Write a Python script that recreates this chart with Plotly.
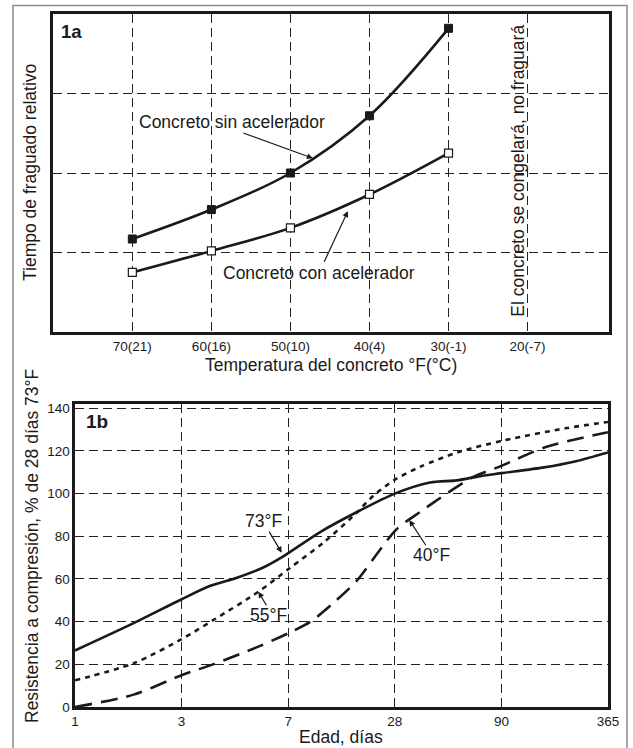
import plotly.graph_objects as go

W, H = 633, 748
FONT = "Liberation Sans, Arial, sans-serif"
INK = "#1a1a1a"
GRID = "#222222"

# ---------------- Panel 1a data ----------------
temp_f = [70, 60, 50, 40, 30]
temp_ticks = [70, 60, 50, 40, 30, 20]
temp_labels = ["70(21)", "60(16)", "50(10)", "40(4)", "30(-1)", "20(-7)"]
set_time_no_acc = [1.17, 1.54, 2.00, 2.72, 3.82]
set_time_acc = [0.75, 1.02, 1.31, 1.73, 2.25]

# ---------------- Panel 1b data ----------------
age_labels = ["1", "3", "7", "28", "90", "365"]
age_ticks = [0, 1, 2, 3, 4, 5]          # equally spaced age axis positions
strength_ticks = [0, 20, 40, 60, 80, 100, 120, 140]

pos_73 = [0.0, 0.55, 1.0, 1.27, 1.52, 1.77, 1.95, 2.30, 2.65, 3.0, 3.33, 3.58, 3.8, 4.0, 4.4, 4.7, 5.0]
str_73 = [26.5, 39.3, 50.5, 56.8, 60.6, 65.5, 70.5, 82.0, 91.5, 100.0, 105.2, 106.2, 108.2, 109.6, 112.3, 115.2, 119.3]

pos_55 = [0.0, 0.55, 1.0, 1.3, 1.72, 2.02, 2.33, 2.61, 2.80, 3.0, 3.24, 3.6, 4.03, 4.6, 5.0]
str_55 = [12.5, 20.5, 31.8, 40.8, 54.0, 65.3, 77.0, 89.5, 99.0, 106.5, 112.6, 119.5, 125.0, 130.6, 133.6]

pos_40 = [0.0, 0.55, 1.01, 1.3, 1.72, 2.02, 2.21, 2.42, 2.64, 2.86, 3.02, 3.24, 3.49, 3.74, 4.0, 4.41, 5.0]
str_40 = [0.0, 5.8, 15.1, 20.1, 28.3, 35.0, 40.0, 48.6, 59.0, 73.6, 83.5, 91.5, 100.1, 107.9, 113.0, 121.7, 128.8]

fig = go.Figure()

# Panel 1a traces
fig.add_trace(go.Scatter(
    x=temp_f, y=set_time_no_acc, mode="lines+markers",
    line=dict(color=INK, width=2.6, shape="spline", smoothing=1.0),
    marker=dict(symbol="square", size=8, color=INK, line=dict(color=INK, width=1)),
    xaxis="x", yaxis="y", name="Concreto sin acelerador"))
fig.add_trace(go.Scatter(
    x=temp_f, y=set_time_acc, mode="lines+markers",
    line=dict(color=INK, width=2.6, shape="spline", smoothing=1.0),
    marker=dict(symbol="square", size=8, color="white", line=dict(color=INK, width=1.2)),
    xaxis="x", yaxis="y", name="Concreto con acelerador"))

# Panel 1b traces
fig.add_trace(go.Scatter(
    x=pos_73, y=str_73, mode="lines",
    line=dict(color=INK, width=2.6, shape="spline", smoothing=0.8),
    xaxis="x2", yaxis="y2", name="73°F"))
fig.add_trace(go.Scatter(
    x=pos_55, y=str_55, mode="lines",
    line=dict(color=INK, width=2.6, shape="spline", smoothing=0.8, dash="5px,5px"),
    xaxis="x2", yaxis="y2", name="55°F"))
fig.add_trace(go.Scatter(
    x=pos_40, y=str_40, mode="lines",
    line=dict(color=INK, width=2.6, shape="spline", smoothing=0.8, dash="17px,9px"),
    xaxis="x2", yaxis="y2", name="40°F"))


def px(x):
    return x / W


def py(y):
    return 1 - y / H


axis_common = dict(
    showline=True, mirror=True, linecolor=INK, linewidth=2.6,
    showgrid=True, gridcolor=GRID, gridwidth=1, griddash="9px,5px",
    zeroline=False, ticks="", automargin=False,
    tickfont=dict(family=FONT, size=13.5, color=INK),
)

fig.update_layout(
    width=W, height=H, margin=dict(l=0, r=0, t=0, b=0, pad=0, autoexpand=False),
    paper_bgcolor="white", plot_bgcolor="white", showlegend=False,
    font=dict(family=FONT, color=INK),
    xaxis=dict(domain=[px(52.5), px(609)], range=[80.1, 9.7], anchor="y",
               tickmode="array", tickvals=temp_ticks, ticktext=temp_labels,
               **axis_common),
    yaxis=dict(domain=[py(332), py(14)], range=[0, 4], anchor="x",
               tickmode="array", tickvals=[1, 2, 3], showticklabels=False,
               **axis_common),
    xaxis2=dict(domain=[px(75), px(608)], range=[0, 5], anchor="y2",
                tickmode="array", tickvals=age_ticks, ticktext=age_labels,
                **axis_common),
    yaxis2=dict(domain=[py(707), py(404)], range=[0, 142], anchor="x2",
                tickmode="array", tickvals=strength_ticks,
                **axis_common),
)

TXT = dict(family=FONT, size=17.5, color=INK)
C = dict(xanchor="center", yanchor="middle", showarrow=False)
ann = []
# panel labels
ann.append(dict(text="<b>1a</b>", xref="paper", yref="paper", x=px(71), y=py(32),
                font=dict(family=FONT, size=18.5, color=INK), **C))
ann.append(dict(text="<b>1b</b>", xref="paper", yref="paper", x=px(97), y=py(421.5),
                font=dict(family=FONT, size=19, color=INK), **C))
# axis titles
ann.append(dict(text="Tiempo de fraguado relativo", xref="paper", yref="paper",
                x=px(30), y=py(173), textangle=-90, font=TXT, **C))
ann.append(dict(text="Temperatura del concreto °F(°C)", xref="paper", yref="paper",
                x=px(331), y=py(365), font=TXT, **C))
ann.append(dict(text="Resistencia a compresión, % de 28 días 73°F", xref="paper", yref="paper",
                x=px(32), y=py(546), textangle=-90, font=TXT, **C))
ann.append(dict(text="Edad, días", xref="paper", yref="paper",
                x=px(341), y=py(737), font=TXT, **C))
# panel 1a labels
ann.append(dict(text="Concreto sin acelerador", xref="x", yref="y", x=57.4, y=2.64, font=TXT, **C))
ann.append(dict(text="Concreto con acelerador", xref="x", yref="y", x=46.4, y=0.74, font=TXT, **C))
ann.append(dict(text="El concreto se congelará, no fraguará", xref="x", yref="y",
                x=21.2, y=2.03, textangle=-90, font=TXT, **C))
# panel 1a arrows
ann.append(dict(text="", xref="x", yref="y", x=47.16, y=2.185, axref="x", ayref="y",
                ax=56.15, ay=2.51, showarrow=True, arrowhead=2, arrowsize=1,
                arrowwidth=1.2, arrowcolor=INK, standoff=0))
ann.append(dict(text="", xref="x", yref="y", x=42.73, y=1.52, axref="x", ayref="y",
                ax=45.82, ay=0.864, showarrow=True, arrowhead=2, arrowsize=1,
                arrowwidth=1.2, arrowcolor=INK, standoff=0))
# panel 1b labels
ann.append(dict(text="73°F", xref="x2", yref="y2", x=1.766, y=87.2, font=TXT, **C))
ann.append(dict(text="55°F", xref="x2", yref="y2", x=1.813, y=43.1, font=TXT, **C))
ann.append(dict(text="40°F", xref="x2", yref="y2", x=3.346, y=71.2, font=TXT, **C))
for (hx, hy, tx, ty) in [(1.939, 72.3, 1.813, 82.9), (1.72, 54.0, 1.804, 47.0), (3.136, 87.6, 3.30, 75.1)]:
    ann.append(dict(text="", xref="x2", yref="y2", x=hx, y=hy, axref="x2", ayref="y2",
                    ax=tx, ay=ty, showarrow=True, arrowhead=2, arrowsize=1,
                    arrowwidth=1.2, arrowcolor=INK, standoff=0))
fig.update_layout(annotations=ann)

# outer frame
fig.add_shape(type="rect", xref="paper", yref="paper", x0=px(13), x1=px(627),
              y0=-0.05, y1=py(5.5), line=dict(color="#8a8a8a", width=1.5), layer="below")

fig.write_html(
    "out.html",
    config={"displayModeBar": False, "staticPlot": True},
    post_script="document.body.style.margin='0';document.body.style.overflow='hidden';",
)
